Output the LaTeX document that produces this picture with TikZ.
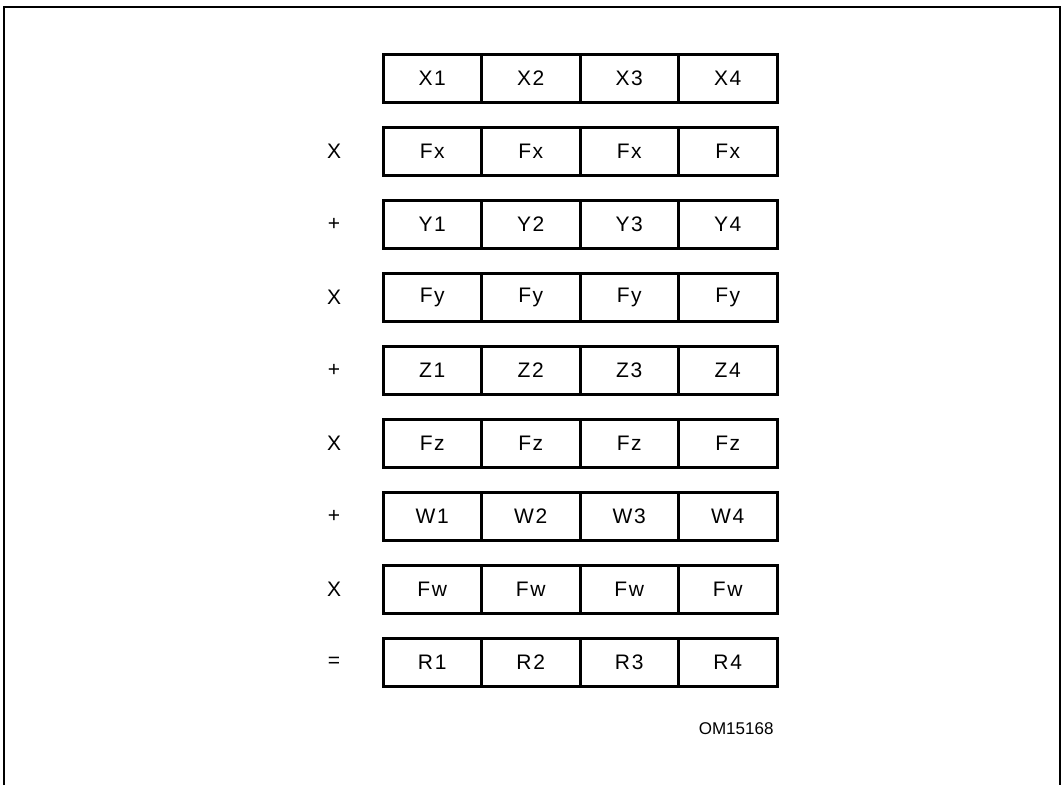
\documentclass[tikz,border=0pt]{standalone}
\usepackage{fontspec}
\setmainfont{Liberation Sans}
\usetikzlibrary{positioning}
\tikzset{
  cell/.style={draw,line width=3pt,minimum width=98.5pt,minimum height=48pt,
               inner sep=0pt,font=\fontsize{21}{25}\selectfont\addfontfeatures{LetterSpace=8}},
  oplab/.style={font=\fontsize{21}{25}\selectfont},
  tag/.style={font=\fontsize{17}{20}\selectfont},
  frame/.style={line width=2.4pt},
}

\begin{document}
\begin{tikzpicture}[x=1pt,y=-1pt]
    \useasboundingbox (0,0) rectangle (1063,785);
    % --- open frame (no bottom edge) ---
    \draw[frame] (4,785) -- (4,7) -- (1060,7) -- (1060,785);
    % --- rows: operator / cell text / numbered? ---
    \foreach \r/\op/\txt/\num in {1//X/1,2/X/Fx/0,3/+/Y/1,4/X/Fy/0,5/+/Z/1,
                                  6/X/Fz/0,7/+/W/1,8/X/Fw/0,9/=/R/1}{
      \pgfmathsetmacro{\yy}{78+73*(\r-1)}
      \node[oplab] (op-\r) at (334,\yy) {\op};
      \foreach \c in {1,...,4}{
        \pgfmathsetmacro{\xx}{432.25+98.5*(\c-1)}
        \ifnum\num=1
          \node[cell] (c-\r-\c) at (\xx,\yy) {\txt\c};
        \else
          \node[cell] (c-\r-\c) at (\xx,\yy) {\txt};
        \fi
      }
    }
    % --- figure number ---
    \node[tag,anchor=east] (om) at (777,729) {OM15168};
\end{tikzpicture}
\end{document}
